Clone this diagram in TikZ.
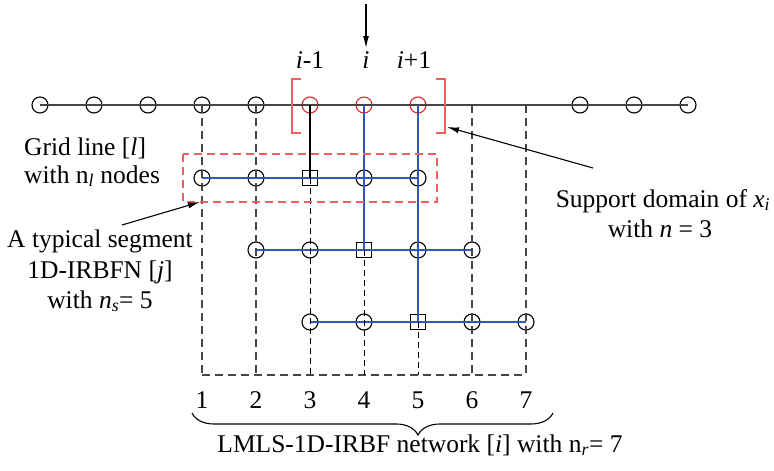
\documentclass[tikz,border=0pt]{standalone}
\usepackage{fontspec}
\setmainfont{Liberation Serif}
\usetikzlibrary{arrows.meta,decorations.pathreplacing}
\definecolor{bluel}{RGB}{50,85,190}
\definecolor{redc}{RGB}{230,40,40}
\definecolor{redl}{RGB}{240,95,95}
\definecolor{greyd}{RGB}{70,70,70}
\begin{document}
\begin{tikzpicture}[x=1pt,y=-1pt,
 font=\fontsize{25.5}{30}\selectfont,
 pt/.style={circle,draw=black,minimum size=16pt,inner sep=0pt,line width=1.1pt},
 rpt/.style={pt,draw=redc},
 sq/.style={rectangle,draw=black,minimum size=15.5pt,inner sep=0pt,line width=1.1pt},
 gdash/.style={draw=greyd,line width=1.2pt,dash pattern=on 8pt off 5pt},
 kdash/.style={draw=black,line width=1pt,dash pattern=on 6pt off 4pt},
 bline/.style={draw=bluel,line width=1.2pt},
 lbl/.style={inner sep=0pt,anchor=base},
 arr/.style={-{Latex[length=12pt,width=6pt]},line width=1.1pt},
 redbox/.style={draw=redl,line width=1.3pt},
]
\useasboundingbox (0,0) rectangle (774,471);
% top line nodes
\foreach \k in {0,...,4} \node[pt] (t\k) at ({40+54*\k},105) {};
\node[rpt] (t5) at (310,105) {};
\node[rpt] (t6) at (364,105) {};
\node[rpt] (t7) at (418,105) {};
\coordinate (t8) at (472,105);
\coordinate (t9) at (526,105);
\node[pt] (t10) at (580,105) {};
\node[pt] (t11) at (634,105) {};
\node[pt] (t12) at (688,105) {};
% row a
\node[pt] (a1) at (202,178) {};
\node[pt] (a2) at (256,178) {};
\node[sq] (a3) at (310,178) {};
\node[pt] (a4) at (364,178) {};
\node[pt] (a5) at (418,178) {};
% row b
\node[pt] (b2) at (256,250) {};
\node[pt] (b3) at (310,250) {};
\node[sq] (b4) at (364,250) {};
\node[pt] (b5) at (418,250) {};
\node[pt] (b6) at (472,250) {};
% row c
\node[pt] (c3) at (310,322) {};
\node[pt] (c4) at (364,322) {};
\node[sq] (c5) at (418,322) {};
\node[pt] (c6) at (472,322) {};
\node[pt] (c7) at (526,322) {};
% bottom corners
\foreach \k in {1,...,7} \coordinate (z\k) at ({148+54*\k},375);
% lines
\draw[greyd,line width=1.2pt] (t0.center) -- (t12.center);
\draw[bline] (a1.center) -- (a5.center);
\draw[bline] (b2.center) -- (b6.center);
\draw[bline] (c3.center) -- (c7.center);
\draw[gdash] (t3.center) -- (z1);
\draw[gdash] (t4.center) -- (z2);
\draw[gdash] (t8) -- (z6);
\draw[gdash] (t9) -- (z7);
\draw[gdash] (z1) -- (z7);
\draw[black,line width=1.1pt] (t5.center) -- (a3.center);
\draw[kdash] (a3.center) -- (z3);
\draw[bline] (t6.center) -- (b4.center);
\draw[kdash] (b4.center) -- (z4);
\draw[bline] (t7.center) -- (c5.center);
\draw[kdash] (c5.center) -- (z5);
% red dashed segment box
\draw[redbox,dash pattern=on 8pt off 5pt] (183,154) rectangle (437,202);
% brackets
\draw[redbox] (301,79) -- (292,79) -- (292,133) -- (301,133);
\draw[redbox] (436,79) -- (445,79) -- (445,133) -- (436,133);
% top arrow and labels
\coordinate (ta) at (366,4);
\coordinate (tb) at (366,48);
\draw[arr] (ta) -- (tb);
\node[lbl] (lim) at (310,68) {\textit{i}-1};
\node[lbl] (li) at (366,68) {\textit{i}};
\node[lbl] (lip) at (414,68) {\textit{i}+1};
% left labels
\node[lbl,anchor=base west] (gl1) at (24,155) {Grid line [\textit{l}]};
\node[lbl,anchor=base west] (gl2) at (24,183) {with n\textsubscript{\textit{l}} nodes};
\node[lbl] (ts1) at (100,247) {A typical segment};
\node[lbl] (ts2) at (100,278) {1D-IRBFN [\textit{j}]};
\node[lbl] (ts3) at (100,308) {with \textit{n}\textsubscript{\textit{s}}= 5};
\coordinate (tsa) at (122,225);
\coordinate (tsb) at (200,202);
\draw[arr] (tsa) -- (tsb);
% right labels
\node[lbl] (sd1) at (663,207) {Support domain of \textit{x}\textsubscript{\textit{i}}};
\node[lbl] (sd2) at (660,237) {with \textit{n} = 3};
\coordinate (sda) at (593,168);
\coordinate (sdb) at (447,127);
\draw[arr] (sda) -- (sdb);
% numbers
\foreach \k in {1,...,7} \node[lbl] (n\k) at ({148+54*\k},408) {\k};
% brace
\coordinate (br1) at (553,413);
\coordinate (br2) at (192,413);
\draw[line width=1.1pt,decorate,decoration={brace,amplitude=22pt,aspect=0.374}] (br1) -- (br2);
\node[lbl] (net) at (420,452) {LMLS-1D-IRBF network [\textit{i}] with n\textsubscript{\textit{r}}= 7};
\end{tikzpicture}
\end{document}
